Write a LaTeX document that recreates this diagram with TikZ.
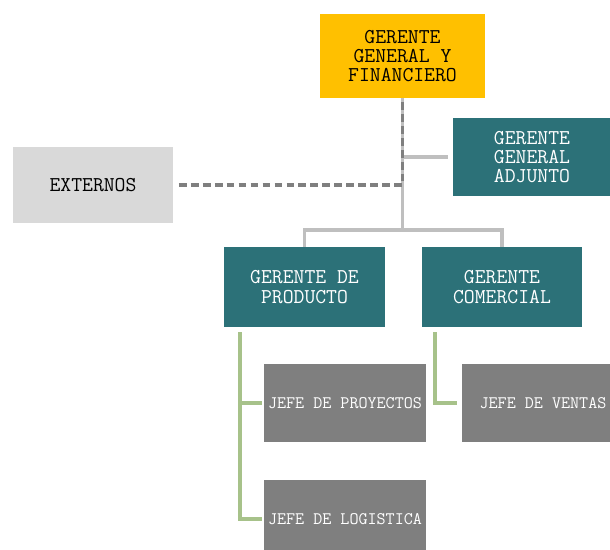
\documentclass[tikz,border=0pt]{standalone}
\definecolor{oro}{HTML}{FFC000}
\definecolor{petroleo}{HTML}{2C7178}
\definecolor{grisclaro}{HTML}{D9D9D9}
\definecolor{grisjefe}{HTML}{7F7F7F}
\definecolor{lineagris}{HTML}{BFBFBF}
\definecolor{lineaverde}{HTML}{A7C28A}

\begin{document}
\begin{tikzpicture}[x=0.025cm, y=-0.025cm]
    \clip (0,0) rectangle (610,550);
    \fill[white] (0,0) rectangle (610,550);
    \begin{scope}[every node/.style={rectangle, inner sep=0pt, align=center,
            font=\ttfamily\fontsize{15}{13.8}\selectfont},
        mgr/.style={fill=petroleo, text=white, minimum width=4cm, minimum height=2cm},
        jefe/.style={fill=grisjefe, text=white, minimum width=4.05cm, minimum height=1.95cm,
            font=\ttfamily\fontsize{12.5}{13}\selectfont}]
        \node[fill=oro, minimum width=4.125cm, minimum height=2.1cm] (ggf) at (402.5,56) {GERENTE\\GENERAL Y\\FINANCIERO};
        \node[mgr, minimum width=3.95cm, minimum height=1.95cm] (gga) at (532,157) {GERENTE\\GENERAL\\ADJUNTO};
        \node[fill=grisclaro, minimum width=4cm, minimum height=1.9cm] (ext) at (93,185) {EXTERNOS};
        \node[mgr] (gp) at (304.5,287) {GERENTE DE\\PRODUCTO};
        \node[mgr] (gc) at (502,287) {GERENTE\\COMERCIAL};
        \node[jefe] (jdp) at (345,403) {JEFE DE PROYECTOS};
        \node[jefe] (jdv) at (543,403) {JEFE DE VENTAS};
        \node[jefe] (jdl) at (345,519) {JEFE DE LOGISTICA};
    \end{scope}
    \coordinate (bar) at (402.5,230);
    \coordinate (gpl) at (240,332);
    \coordinate (gcl) at (435,332);
    \begin{scope}[line width=2.4pt]
        \draw[lineagris] (ggf.south) -- (bar) -| (gp.north);
        \draw[lineagris] (bar) -| (gc.north);
        \draw[lineagris, shorten >=3pt] (ggf.south |- gga.west) -- (gga.west);
        \draw[grisjefe, line width=2.2pt, dash pattern=on 5.5pt off 3pt, shorten <=4pt]
            (ext.east) -| (ggf.south);
        \draw[lineaverde] (gpl) |- ([xshift=-1.5pt]jdl.west);
        \draw[lineaverde] (gpl |- jdp.west) -- ([xshift=-1.5pt]jdp.west);
        \draw[lineaverde] (gcl) |- ([xshift=-3pt]jdv.west);
    \end{scope}
\end{tikzpicture}
\end{document}
